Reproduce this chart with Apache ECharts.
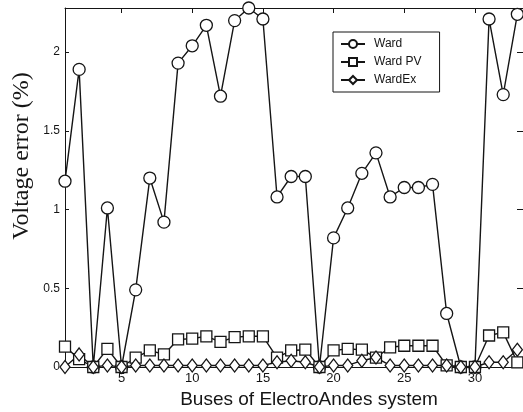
<!DOCTYPE html>
<html>
<head>
<meta charset="utf-8">
<script src="https://cdn.jsdelivr.net/npm/echarts@6/dist/echarts.min.js"></script>
<style>
  html, body { margin: 0; padding: 0; background: #fff; }
  #chart { width: 523px; height: 412px; }
</style>
</head>
<body>
<div id="chart"></div>
<script>
// data
var buses = [1, 2, 3, 4, 5, 6, 7, 8, 9, 10, 11, 12, 13, 14, 15, 16, 17,
             18, 19, 20, 21, 22, 23, 24, 25, 26, 27, 28, 29, 30, 31, 32, 33];
var ward = [1.18, 1.89, 0, 1.01, 0, 0.49, 1.20, 0.92, 1.93, 2.04, 2.17, 1.72, 2.20, 2.28, 2.21, 1.08, 1.21,
            1.21, 0, 0.82, 1.01, 1.23, 1.36, 1.08, 1.14, 1.14, 1.16, 0.34, 0, 0, 2.21, 1.73, 2.24];
var wardPV = [0.13, 0.05, 0, 0.115, 0, 0.06, 0.105, 0.08, 0.175, 0.18, 0.195, 0.16, 0.19, 0.195, 0.195, 0.06, 0.105,
              0.11, 0, 0.105, 0.115, 0.11, 0.06, 0.125, 0.135, 0.135, 0.135, 0.01, 0, 0, 0.2, 0.22, 0.03];
var wardEx = [0, 0.08, 0, 0.01, 0, 0.01, 0.01, 0.01, 0.01, 0.01, 0.01, 0.01, 0.01, 0.01, 0.01, 0.03, 0.04,
              0.03, 0, 0.01, 0.01, 0.04, 0.06, 0.01, 0.01, 0.01, 0.01, 0.01, 0, 0, 0.03, 0.03, 0.11];
var xTicks = [5, 10, 15, 20, 25, 30];
var yTicks = [0, 0.5, 1, 1.5, 2];

function pairs(vals) {
    return buses.map(function (b, i) { return [b, vals[i]]; });
}

var ink = '#151515';
var sans = '"Liberation Sans", Arial, sans-serif';

var myChart = echarts.init(document.getElementById('chart'));

function lineSeries(name, vals, symbol, size) {
    return {
        name: name,
        type: 'line',
        data: pairs(vals),
        symbol: symbol,
        symbolSize: size,
        lineStyle: { color: ink, width: 1.4 },
        itemStyle: { color: '#fff', borderColor: ink, borderWidth: 1.3 },
        emphasis: { disabled: true }
    };
}

var option = {
    animation: false,
    backgroundColor: '#fff',
    grid: { left: 65, right: 0, top: 8, bottom: 45 },
    legend: {
        orient: 'vertical',
        left: 333,
        top: 32,
        backgroundColor: '#fff',
        borderColor: ink,
        borderWidth: 1,
        padding: [6, 18, 6, 7],
        itemGap: 6,
        itemWidth: 24,
        itemHeight: 10,
        textStyle: { fontFamily: sans, fontSize: 12, color: ink, padding: [0, 0, 0, 4] },
        data: ['Ward', 'Ward PV', 'WardEx']
    },
    xAxis: [{
        type: 'value',
        position: 'bottom',
        min: 1,
        max: 33.4,
        axisLine: { onZero: false, lineStyle: { color: ink, width: 1 } },
        axisTick: { inside: true, length: 5, customValues: xTicks, lineStyle: { color: ink } },
        axisLabel: { customValues: xTicks, margin: 5, fontFamily: sans, fontSize: 13, color: ink },
        splitLine: { show: false }
    }, {
        type: 'value',
        position: 'top',
        min: 1,
        max: 33.4,
        axisLine: { onZero: false, lineStyle: { color: ink, width: 1 } },
        axisTick: { inside: true, length: 5, customValues: xTicks, lineStyle: { color: ink } },
        axisLabel: { show: false },
        splitLine: { show: false }
    }],
    yAxis: [{
        type: 'value',
        position: 'left',
        min: 0,
        max: 2.28,
        axisLine: { show: true, onZero: false, lineStyle: { color: ink, width: 1 } },
        axisTick: { show: true, inside: true, length: 4, customValues: yTicks, lineStyle: { color: ink } },
        axisLabel: { customValues: yTicks, margin: 5, fontFamily: sans, fontSize: 12, color: ink },
        splitLine: { show: false }
    }, {
        type: 'value',
        position: 'right',
        min: 0,
        max: 2.28,
        axisLine: { show: true, onZero: false, lineStyle: { color: ink, width: 1 } },
        axisTick: { show: true, inside: true, length: 6, customValues: yTicks, lineStyle: { color: ink } },
        axisLabel: { show: false },
        splitLine: { show: false }
    }],
    graphic: [{
        type: 'text',
        x: 22,
        y: 156,
        rotation: Math.PI / 2,
        style: {
            text: 'Voltage error (%)',
            font: '24px "Liberation Serif", "Times New Roman", serif',
            fill: ink,
            textAlign: 'center',
            textVerticalAlign: 'middle'
        }
    }, {
        type: 'text',
        x: 309,
        y: 400,
        style: {
            text: 'Buses of ElectroAndes system',
            font: '19px ' + sans,
            fill: ink,
            textAlign: 'center',
            textVerticalAlign: 'middle'
        }
    }],
    series: [
        lineSeries('Ward', ward, 'circle', 12),
        lineSeries('Ward PV', wardPV, 'rect', 11),
        lineSeries('WardEx', wardEx, 'diamond', [10, 13])
    ]
};

myChart.setOption(option);
</script>
</body>
</html>
